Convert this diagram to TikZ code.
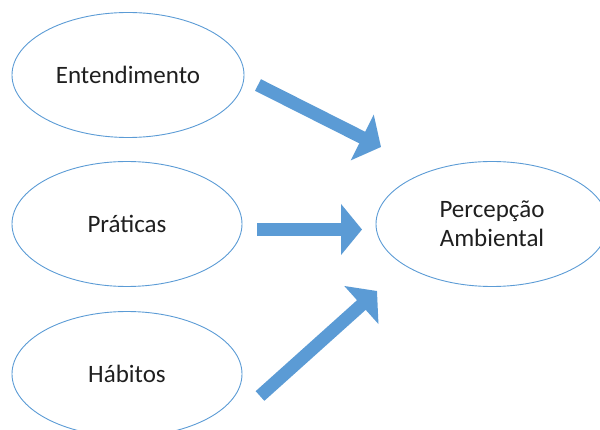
\documentclass[tikz,border=0pt]{standalone}
\usepackage{fontspec}
\setmainfont{Carlito}
\usetikzlibrary{shapes.geometric,arrows.meta}
\definecolor{officeblue}{HTML}{5B9BD5}
\definecolor{arrowedge}{HTML}{4A86C0}
\tikzset{
  oval/.style={ellipse, draw=officeblue, line width=0.9pt, minimum width=232pt, minimum height=125pt, inner sep=0pt, align=center, font=\fontsize{25}{29}\selectfont, text=black!88},
  bigarrow/.style={draw=officeblue, line width=13pt, -{Triangle[length=21pt,width=50pt]}}
}
\begin{document}
\begin{tikzpicture}[x=1pt,y=-1pt]
\useasboundingbox (0,0) rectangle (600,430);
\clip (0,0) rectangle (600,430);
\node[oval] (ent) at (128,75) {Entendimento};
\node[oval, minimum width=230pt] (pra) at (127,224) {Práticas};
\node[oval, minimum width=230pt] (hab) at (127,374) {Hábitos};
\node[oval] (per) at (492,224) {Percepção\\Ambiental};
\coordinate (a1s) at (258,85);
\coordinate (a1e) at (381,147);
\coordinate (a2s) at (257,229.5);
\coordinate (a2e) at (362,229.5);
\coordinate (a3s) at (260,396);
\coordinate (a3e) at (377,291);
\draw[bigarrow] (a1s) -- (a1e);
\draw[bigarrow] (a2s) -- (a2e);
\draw[bigarrow] (a3s) -- (a3e);
\end{tikzpicture}
\end{document}
